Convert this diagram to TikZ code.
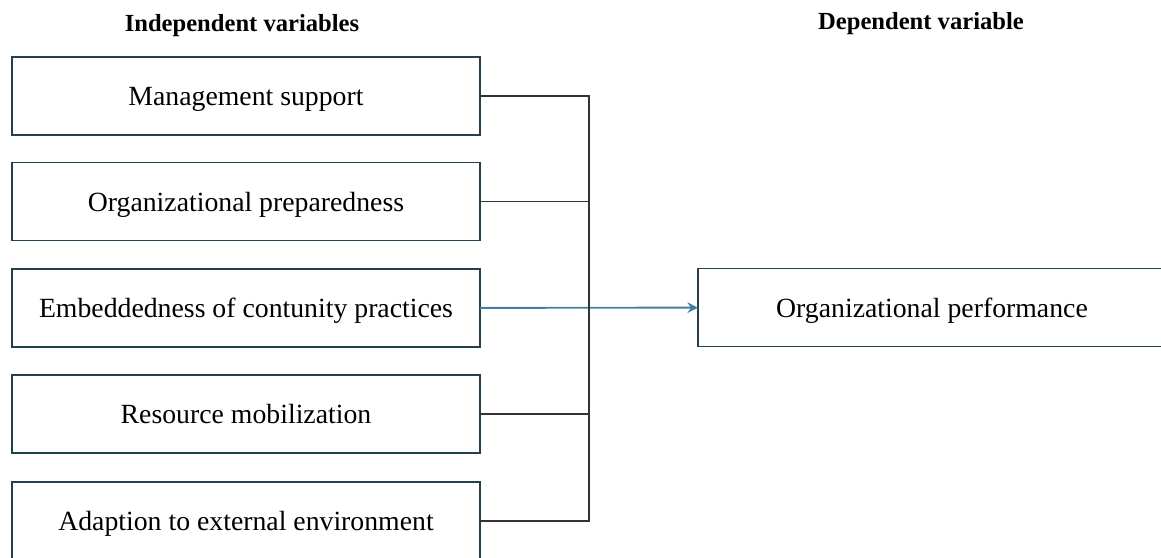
\documentclass[tikz,border=0pt]{standalone}
\usepackage{fontspec}
\setmainfont{Liberation Serif}
\usetikzlibrary{positioning,arrows.meta}
\definecolor{boxline}{HTML}{24404F}
\definecolor{linkline}{HTML}{333333}
\definecolor{arrowline}{HTML}{3F7FA0}
\tikzstyle{varbox} = [align=center,draw=boxline,line width=1.1pt,outer sep=0,inner sep=1,minimum width=9.36cm,minimum height=1.56cm,text depth=0pt,font=\fontsize{15.8}{19}\selectfont]
\tikzstyle{heading} = [font=\fontsize{14}{17}\selectfont\bfseries]
\tikzstyle{link} = [draw=linkline,line width=1.1pt]
\tikzstyle{arrow} = [-{Stealth[length=6pt,width=6pt]},draw=arrowline,line width=1.1pt]

\begin{document}
\begin{tikzpicture}[x=0.02cm,y=-0.02cm]
    \useasboundingbox (0,0) rectangle (1161,558);
    \node [heading] (hi) at (242,26) {Independent variables};
    \node [heading] (hd) at (921,24) {Dependent variable};
    \node [varbox] (v1) at (246,96) {Management support};
    \node [varbox] (v2) at (246,201.5) {Organizational preparedness};
    \node [varbox] (v3) at (246,308) {Embeddedness of contunity practices};
    \node [varbox] (v4) at (246,414) {Resource mobilization};
    \node [varbox] (v5) at (246,521) {Adaption to external environment};
    \node [varbox] (dv) at (932,307.5) {Organizational performance};
    \coordinate (jn) at (589,308);

    \draw [arrow] (v3) -- (dv);
    \draw [link] (v1.east) -| (jn) |- (v5.east);
    \draw [link] (v2.east) -- (v2.east -| jn);
    \draw [link] (v4.east) -- (v4.east -| jn);
  \end{tikzpicture}
\end{document}
